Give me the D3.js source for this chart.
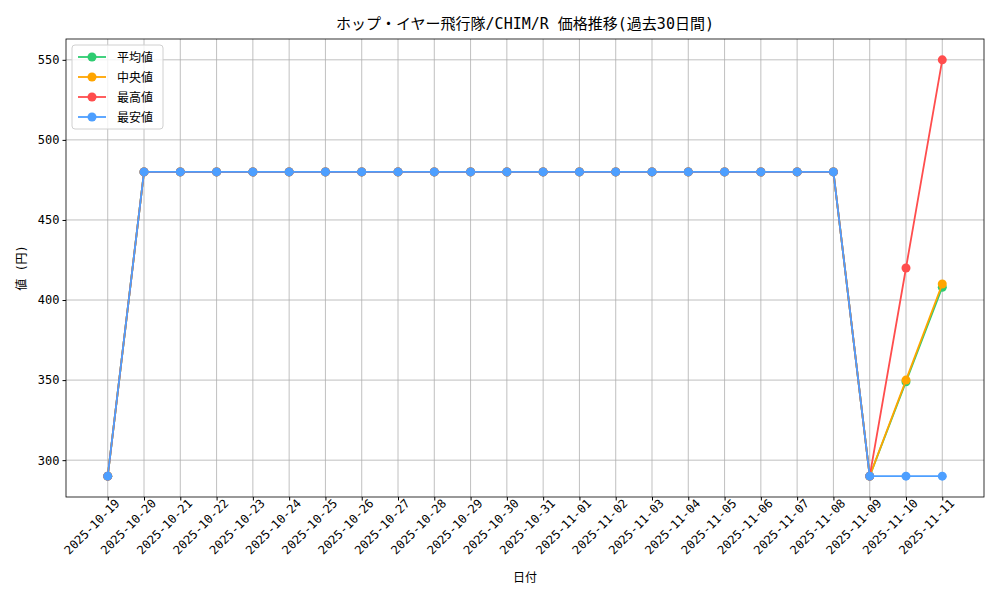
<!DOCTYPE html>
<html><head><meta charset="utf-8">
<script src="https://cdn.jsdelivr.net/npm/d3@7"></script>
<style>body{margin:0;background:#fff}text{font-family:"DejaVu Sans Mono","Noto Sans CJK JP",monospace}</style>
</head><body><div id="chart"></div>
<script>
const dates = ["2025-10-19","2025-10-20","2025-10-21","2025-10-22","2025-10-23","2025-10-24","2025-10-25","2025-10-26","2025-10-27","2025-10-28","2025-10-29","2025-10-30","2025-10-31","2025-11-01","2025-11-02","2025-11-03","2025-11-04","2025-11-05","2025-11-06","2025-11-07","2025-11-08","2025-11-09","2025-11-10","2025-11-11"];
const flat = [290,480,480,480,480,480,480,480,480,480,480,480,480,480,480,480,480,480,480,480,480,290];
const meanVals = [...flat, 349, 408];
const medianVals = [...flat, 350, 410];
const maxVals = [...flat, 420, 550];
const minVals = [...flat, 290, 290];
const yTicks = [300,350,400,450,500,550];
const series = [
  {name:"平均値", color:"#2ecc71", values:meanVals},
  {name:"中央値", color:"#ffa500", values:medianVals},
  {name:"最高値", color:"#ff4d4d", values:maxVals},
  {name:"最安値", color:"#4d9fff", values:minVals}
];

const W = 1000, H = 600, m = {l:66, r:16, t:39, b:103};
const svg = d3.select("#chart").append("svg").attr("width", W).attr("height", H);
const n = dates.length;
const x = d3.scaleLinear().domain([-0.05*(n-1), (n-1)*1.05]).range([m.l, W-m.r]);
const y = d3.scaleLinear().domain([277, 563]).range([H-m.b, m.t]);

const g = svg.append("g");
g.selectAll(".gx").data(dates).join("line")
  .attr("x1",(d,i)=>x(i)).attr("x2",(d,i)=>x(i)).attr("y1",m.t).attr("y2",H-m.b)
  .attr("stroke","#b0b0b0").attr("stroke-width",0.8);
g.selectAll(".gy").data(yTicks).join("line")
  .attr("x1",m.l).attr("x2",W-m.r).attr("y1",d=>y(d)).attr("y2",d=>y(d))
  .attr("stroke","#b0b0b0").attr("stroke-width",0.8);

const xAxis = svg.append("g").attr("transform",`translate(0,${H-m.b})`)
  .call(d3.axisBottom(x).tickValues(d3.range(n)).tickFormat(i=>dates[i]).tickSize(3.5).tickSizeOuter(0));
xAxis.selectAll("text").attr("font-size",12).attr("text-anchor","end")
  .attr("dx","0.3em").attr("dy","0.6em").attr("transform","rotate(-45)").attr("fill","#000");
const yAxis = svg.append("g").attr("transform",`translate(${m.l},0)`)
  .call(d3.axisLeft(y).tickValues(yTicks).tickSize(3.5).tickSizeOuter(0));
yAxis.selectAll("text").attr("font-size",12).attr("fill","#000");
[xAxis,yAxis].forEach(a=>{a.select(".domain").remove(); a.attr("font-family",null);});
svg.append("rect").attr("x",m.l).attr("y",m.t).attr("width",W-m.l-m.r).attr("height",H-m.t-m.b)
  .attr("fill","none").attr("stroke","#000").attr("stroke-width",0.8);

const line = d3.line().x((d,i)=>x(i)).y(d=>y(d));
series.forEach(s=>{
  svg.append("path").datum(s.values).attr("d",line).attr("fill","none")
    .attr("stroke",s.color).attr("stroke-width",1.8);
  svg.selectAll(null).data(s.values).join("circle")
    .attr("cx",(d,i)=>x(i)).attr("cy",d=>y(d)).attr("r",4.5).attr("fill",s.color);
});

svg.append("text").attr("x",(m.l+W-m.r)/2).attr("y",29).attr("text-anchor","middle")
  .attr("font-size",15).text("ホップ・イヤー飛行隊/CHIM/R 価格推移(過去30日間)");
svg.append("text").attr("x",(m.l+W-m.r)/2).attr("y",582).attr("text-anchor","middle")
  .attr("font-size",12).text("日付");
svg.append("text").attr("transform",`translate(26,${(m.t+H-m.b)/2}) rotate(-90)`)
  .attr("text-anchor","middle").attr("font-size",12).text("値 (円)");

const lg = svg.append("g").attr("transform",`translate(72,45)`);
lg.append("rect").attr("width",91).attr("height",84).attr("rx",3)
  .attr("fill","#fff").attr("fill-opacity",0.8).attr("stroke","#d0d0d0");
series.forEach((s,i)=>{
  const yy = 12 + i*20;
  lg.append("line").attr("x1",6).attr("x2",34).attr("y1",yy).attr("y2",yy)
    .attr("stroke",s.color).attr("stroke-width",1.8);
  lg.append("circle").attr("cx",20).attr("cy",yy).attr("r",4.5).attr("fill",s.color);
  lg.append("text").attr("x",45).attr("y",yy+4.5).attr("font-size",12).text(s.name);
});
</script></body></html>
